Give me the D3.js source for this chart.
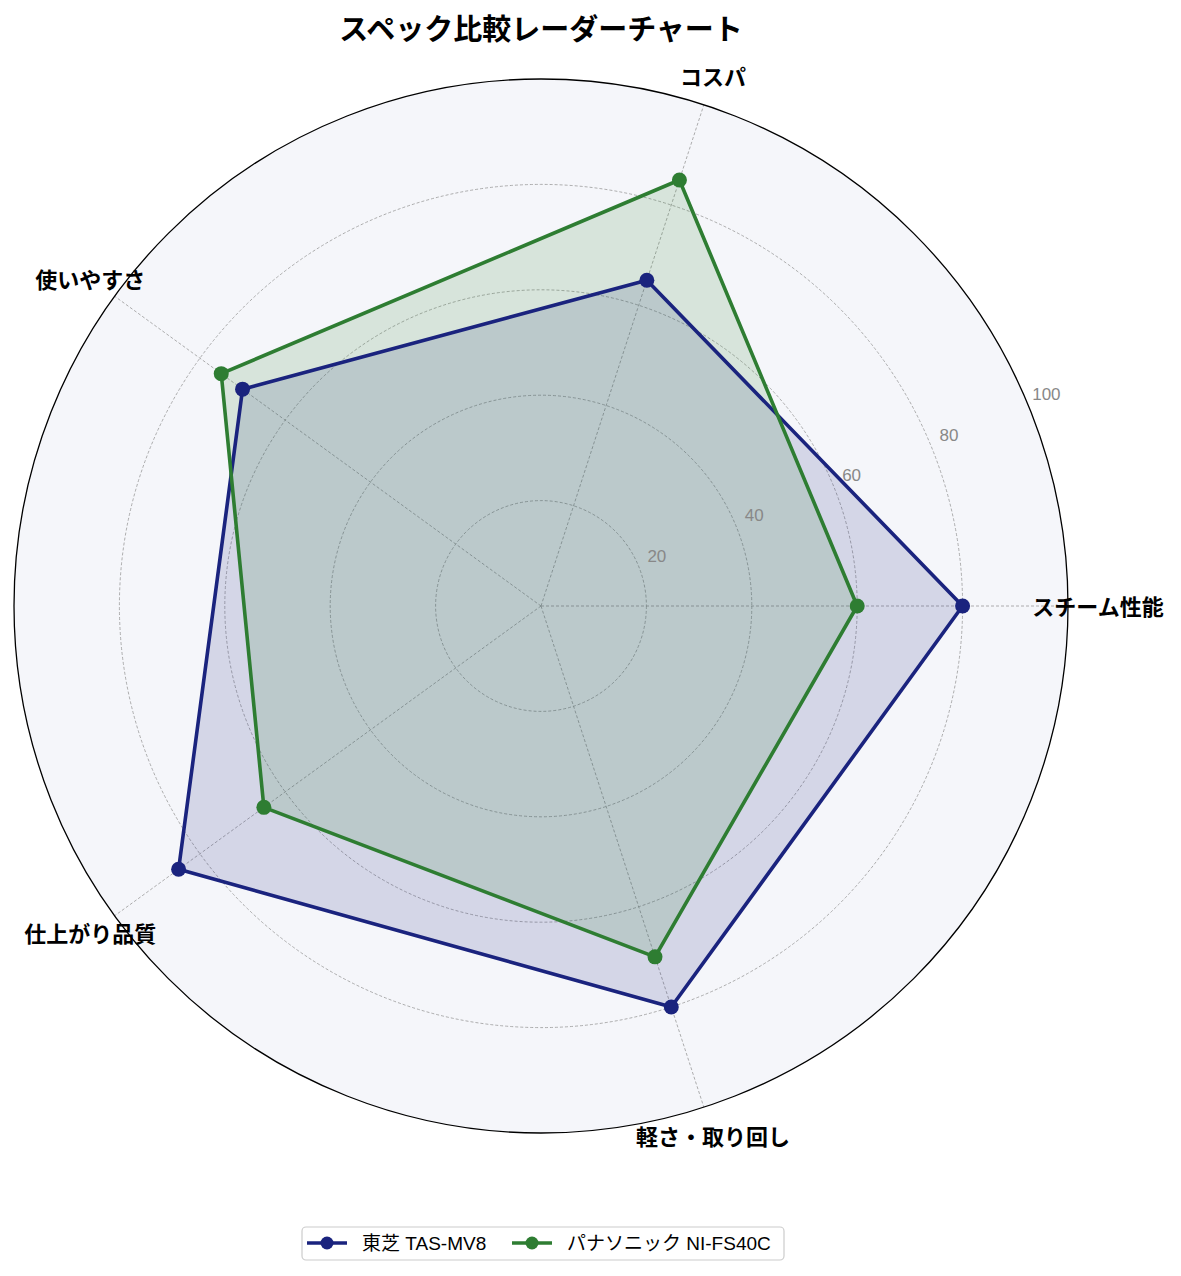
<!DOCTYPE html>
<html>
<head>
<meta charset="utf-8">
<script src="https://cdn.jsdelivr.net/npm/d3@7"></script>
<style>
  body { margin: 0; background: #fff; font-family: "Noto Sans CJK JP", "Noto Sans", sans-serif; }
</style>
</head>
<body>
<div id="chart"></div>
<script>
const width = 1181;
const height = 1276;

// categories and values
const categories = ["スチーム性能", "コスパ", "使いやすさ", "仕上がり品質", "軽さ・取り回し"];
const toshibaValues = [80, 65, 70, 85, 80];
const panaValues = [60, 85, 75, 65, 70];
const seriesNames = ["東芝 TAS-MV8", "パナソニック NI-FS40C"];
const seriesColors = ["#1a237e", "#2e7d32"];
const ringTicks = [20, 40, 60, 80, 100];

const cx = 541, cy = 606, outerR = 527;
const latinFont = "'Liberation Sans', 'Noto Sans CJK JP', sans-serif";

const svg = d3.select("#chart").append("svg")
    .attr("width", width)
    .attr("height", height);

const r = d3.scaleLinear().domain([0, 100]).range([0, outerR]);
// angle: start at east, counter-clockwise
const angle = d3.scaleLinear().domain([0, categories.length]).range([0, 2 * Math.PI]);
const px = (i, v) => cx + r(v) * Math.cos(angle(i));
const py = (i, v) => cy - r(v) * Math.sin(angle(i));

const g = svg.append("g");

// background
g.append("circle")
    .attr("cx", cx).attr("cy", cy).attr("r", outerR)
    .attr("fill", "#f5f6fa");

// grid rings
g.selectAll(".ring")
    .data(ringTicks.slice(0, -1))
    .enter().append("circle")
    .attr("cx", cx).attr("cy", cy)
    .attr("r", d => r(d))
    .attr("fill", "none")
    .attr("stroke", "#999")
    .attr("stroke-width", 0.8)
    .attr("stroke-dasharray", "3,2");

// spokes
g.selectAll(".spoke")
    .data(categories)
    .enter().append("line")
    .attr("x1", cx).attr("y1", cy)
    .attr("x2", (d, i) => px(i, 100))
    .attr("y2", (d, i) => py(i, 100))
    .attr("stroke", "#999")
    .attr("stroke-width", 0.8)
    .attr("stroke-dasharray", "3,2");

// series
const series = [toshibaValues, panaValues];
series.forEach((vals, s) => {
    const pts = vals.map((v, i) => [px(i, v), py(i, v)]);
    g.append("path")
        .attr("d", d3.line()(pts) + "Z")
        .attr("fill", seriesColors[s])
        .attr("fill-opacity", 0.15)
        .attr("stroke", "none");
});
series.forEach((vals, s) => {
    const pts = vals.map((v, i) => [px(i, v), py(i, v)]);
    g.append("path")
        .attr("d", d3.line()(pts) + "Z")
        .attr("fill", "none")
        .attr("stroke", seriesColors[s])
        .attr("stroke-width", 3.6)
        .attr("stroke-linejoin", "round");
    g.selectAll(".pt" + s)
        .data(pts)
        .enter().append("circle")
        .attr("cx", d => d[0]).attr("cy", d => d[1])
        .attr("r", 7.5)
        .attr("fill", seriesColors[s]);
});

// outer circle
g.append("circle")
    .attr("cx", cx).attr("cy", cy).attr("r", outerR)
    .attr("fill", "none")
    .attr("stroke", "#000")
    .attr("stroke-width", 1.3);

// radial tick labels at 22.5 degrees
const tickAng = 22.5 * Math.PI / 180;
g.selectAll(".tick")
    .data(ringTicks)
    .enter().append("text")
    .attr("x", d => cx + (r(d) + 20) * Math.cos(tickAng))
    .attr("y", d => cy - (r(d) + 20) * Math.sin(tickAng) - 2)
    .attr("text-anchor", "middle")
    .attr("dominant-baseline", "central")
    .attr("font-size", 17)
    .attr("font-family", latinFont)
    .attr("fill", "#888")
    .text(d => d);

// category labels
g.selectAll(".cat")
    .data(categories)
    .enter().append("text")
    .attr("x", (d, i) => cx + (outerR + 30) * Math.cos(angle(i)))
    .attr("y", (d, i) => cy - (outerR + 30) * Math.sin(angle(i)) - 1)
    .attr("text-anchor", "middle")
    .attr("dominant-baseline", "central")
    .attr("font-size", 22)
    .attr("font-weight", "bold")
    .attr("fill", "#000")
    .text(d => d);

// title
svg.append("text")
    .attr("x", cx).attr("y", 27)
    .attr("text-anchor", "middle")
    .attr("dominant-baseline", "central")
    .attr("font-size", 29)
    .attr("font-weight", "bold")
    .text("スペック比較レーダーチャート");

// legend
const legend = svg.append("g");
legend.append("rect")
    .attr("x", 302).attr("y", 1227)
    .attr("width", 482).attr("height", 33)
    .attr("rx", 4)
    .attr("fill", "#fff")
    .attr("stroke", "#ccc")
    .attr("stroke-width", 1.2);
const legX = [307, 512];
seriesNames.forEach((name, s) => {
    const lg = legend.append("g").attr("transform", `translate(${legX[s]},1243)`);
    lg.append("line")
        .attr("x1", 0).attr("x2", 40)
        .attr("stroke", seriesColors[s])
        .attr("stroke-width", 3.6);
    lg.append("circle").attr("cx", 20).attr("r", 6.5).attr("fill", seriesColors[s]);
    lg.append("text")
        .attr("x", 55)
        .attr("dominant-baseline", "central")
        .attr("font-size", 19)
        .attr("font-family", latinFont)
        .text(name);
});
</script>
</body>
</html>
